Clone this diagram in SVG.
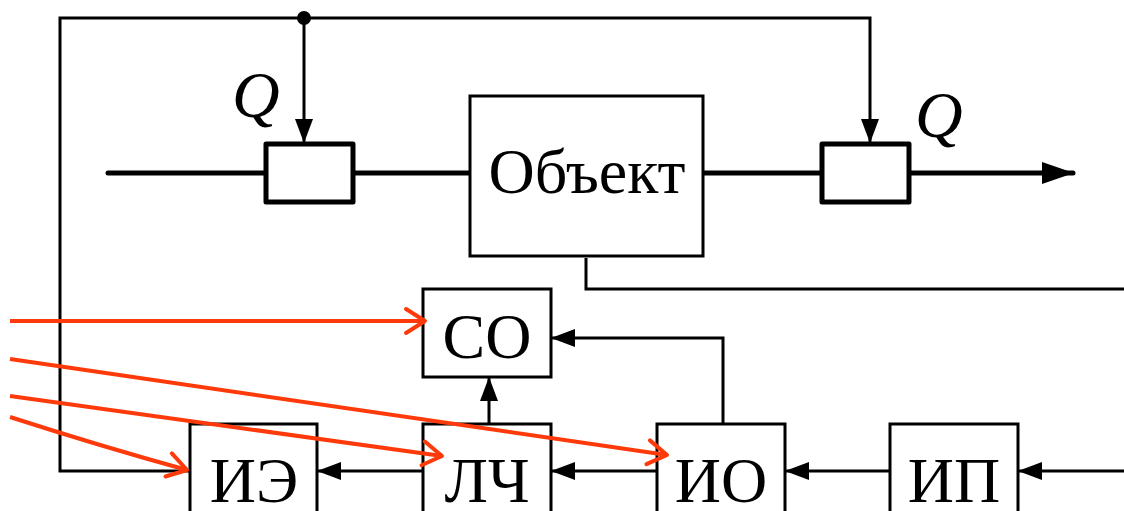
<svg xmlns="http://www.w3.org/2000/svg" width="1124" height="511" viewBox="0 0 1124 511">
<style>
.box{fill:#fff;stroke:#000;stroke-width:3}
.valve{fill:#fff;stroke:#000;stroke-width:5;stroke-linejoin:round}
.ln{fill:none;stroke:#000;stroke-width:3}
.main{fill:none;stroke:#000;stroke-width:5;stroke-linecap:round}
.red{fill:none;stroke:#ff3a0a;stroke-width:4}
.lbl{font-family:"Liberation Serif","Times New Roman",serif;font-size:64px;fill:#000;text-anchor:middle}
.q{font-family:"Liberation Serif","Times New Roman",serif;font-size:66px;font-style:italic;fill:#000}
</style>
<defs>
<marker id="ah" markerWidth="24" markerHeight="18" refX="23" refY="9" orient="auto" markerUnits="userSpaceOnUse"><path d="M0,0 L24,9 L0,18 z" fill="#000"/></marker>
<marker id="big" markerWidth="32" markerHeight="22" refX="31" refY="11" orient="auto" markerUnits="userSpaceOnUse"><path d="M0,0 L32,11 L0,22 z" fill="#000"/></marker>
<marker id="ra" markerWidth="24" markerHeight="28" refX="20" refY="14" orient="auto" markerUnits="userSpaceOnUse" overflow="visible"><path d="M1,2 L20,14 L1,26" fill="none" stroke="#ff3a0a" stroke-width="4" stroke-linecap="round" stroke-linejoin="round"/></marker>
</defs>
<g id="connectors">
<polyline class="ln" points="190,471 60,471 60,18 870,18 870,142" marker-end="url(#ah)"/>
<line class="ln" x1="304" y1="18" x2="304" y2="142" marker-end="url(#ah)"/>
<circle cx="304" cy="18" r="7" fill="#000"/>
<line class="main" x1="108" y1="173" x2="266" y2="173"/>
<line class="main" x1="353" y1="173" x2="470" y2="173"/>
<line class="main" x1="703" y1="173" x2="822" y2="173"/>
<line class="main" x1="909" y1="173" x2="1073" y2="173" marker-end="url(#big)"/>
<polyline class="ln" points="586,258 586,289 1124,289"/>
<polyline class="ln" points="723,424 723,338 552,338" marker-end="url(#ah)"/>
<line class="ln" x1="489" y1="424" x2="489" y2="378" marker-end="url(#ah)"/>
<line class="ln" x1="1124" y1="471" x2="1019" y2="471" marker-end="url(#ah)"/>
<line class="ln" x1="890" y1="471" x2="786" y2="471" marker-end="url(#ah)"/>
<line class="ln" x1="657" y1="471" x2="552" y2="471" marker-end="url(#ah)"/>
<line class="ln" x1="423" y1="471" x2="318" y2="471" marker-end="url(#ah)"/>
</g>
<g id="valve-left"><rect class="valve" x="266" y="144" width="87" height="58"/></g>
<g id="valve-right"><rect class="valve" x="822" y="144" width="87" height="58"/></g>
<g id="label-q-left"><text class="q" x="232" y="117">Q</text></g>
<g id="label-q-right"><text class="q" x="915" y="137">Q</text></g>
<g id="object"><rect class="box" x="470" y="96" width="233" height="160" stroke-width="2.5"/><text class="lbl" x="587" y="193">Объект</text></g>
<g id="co"><rect class="box" x="423" y="289" width="128" height="88"/><text class="lbl" x="487" y="358">СО</text></g>
<g id="ie"><rect class="box" x="190" y="424" width="127" height="100"/><text class="lbl" x="254" y="502">ИЭ</text></g>
<g id="lch"><rect class="box" x="423" y="424" width="128" height="100"/><text class="lbl" x="487" y="502">ЛЧ</text></g>
<g id="io"><rect class="box" x="657" y="424" width="128" height="100"/><text class="lbl" x="721" y="502">ИО</text></g>
<g id="ip"><rect class="box" x="890" y="424" width="128" height="100"/><text class="lbl" x="954" y="502">ИП</text></g>
<g id="red-connectors">
<line class="red" x1="10" y1="321" x2="425" y2="321" marker-end="url(#ra)"/>
<line class="red" x1="10" y1="359" x2="667" y2="455" marker-end="url(#ra)"/>
<line class="red" x1="10" y1="396" x2="442" y2="456" marker-end="url(#ra)"/>
<path class="red" d="M10,417 Q100,446 187,470" marker-end="url(#ra)"/>
</g>
</svg>
